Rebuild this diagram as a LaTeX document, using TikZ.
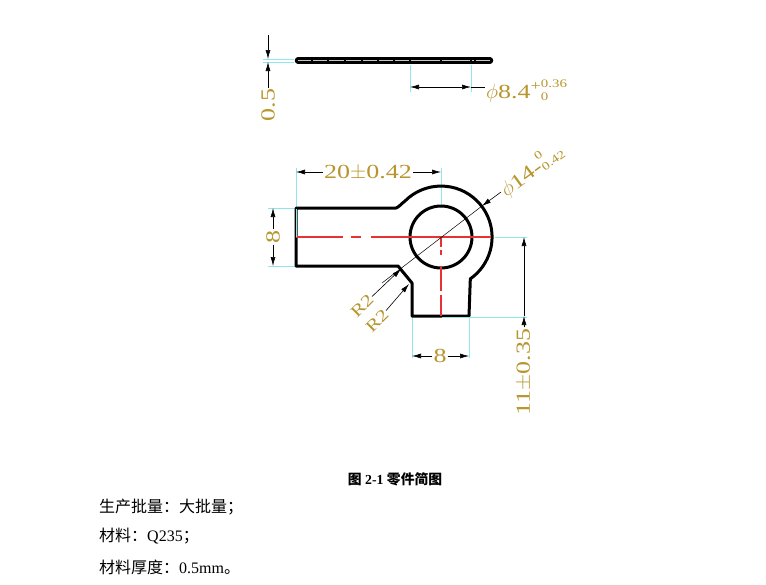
\documentclass[tikz,border=0pt]{standalone}
\usepackage{fontspec}
\setmainfont{Liberation Serif}
\newfontfamily\cadfont[FakeStretch=1.3]{Liberation Serif}
\newfontfamily\cjk{Noto Sans CJK SC}
\usetikzlibrary{arrows.meta,positioning}
\definecolor{dimgold}{HTML}{B8962E}
\definecolor{extcyan}{HTML}{8FE6EC}
\definecolor{redaxis}{RGB}{230,50,50}
\newcommand{\tolstack}[2]{\raisebox{0.58em}{\makebox[0pt][l]{\fontsize{11.5}{12}\selectfont #1}}\raisebox{-0.08em}{\fontsize{11.5}{12}\selectfont #2}}
\tikzset{
  outline/.style={line width=3pt, line join=round, line cap=round},
  ext/.style={draw=extcyan, line width=0.8pt},
  centreline/.style={color=redaxis, line width=1.2pt},
  dimtext/.style={text=dimgold, inner sep=1pt, font=\cadfont\fontsize{20}{20}\selectfont},
  dimarrow/.style={line width=0.6pt, -{Latex[length=9pt,width=5pt]}},
  twoway/.style={line width=0.6pt, {Latex[length=9pt,width=5pt]}-{Latex[length=9pt,width=5pt]}},
  body/.style={anchor=base west, inner sep=0pt, font=\fontsize{16}{16}\selectfont},
}
\begin{document}
\begin{tikzpicture}[x=1pt, y=-1pt]
  \path[use as bounding box, fill=white] (0,0) rectangle (766,584);

  % edge view
  \draw[line width=6.5pt, line cap=round] (298,60.5) -- (490,60.5);
  \draw[gray!45, line width=1.2pt] (298,60.5) -- (490,60.5);
  \foreach \tick in {312,328,345,362,378,394,410,441,471,475}
    \draw[line width=1.2pt] (\tick,59.5) -- (\tick,61.5);
  \draw[ext] (263,59) -- (294,59) (263,62) -- (294,62);
  \draw[ext] (410,65) -- (410,92) (471,65) -- (471,92);
  \node[dimtext, rotate=90] (thick) at (268,105) {0.5};
  \coordinate (thickA) at (268,59);
  \coordinate (thickB) at (268,62);
  \draw[dimarrow] (268,35) -- (thickA);
  \draw[dimarrow] (thick) -- (thickB);
  \node[dimtext, anchor=west] (bore) at (485,91) {$\phi$8.4\raisebox{0.42em}{\fontsize{14}{14}\selectfont+}\tolstack{0.36}{0}};
  \coordinate (boreA) at (410,87);
  \coordinate (boreB) at (471,87);
  \draw[twoway] (boreA) -- (boreB);
  \draw[line width=0.6pt] (boreB) -- (boreB -| bore.west);

  % plan view
  \draw[ext] (296,168) -- (296,237);
  \draw[ext] (441,168) -- (441,208);
  \draw[ext] (268,208) -- (295,208) (268,266) -- (295,266);
  \draw[ext] (495,237) -- (527,237);
  \draw[ext] (412,317) -- (412,358) (469,317) -- (469,358);
  \draw[outline] (296,208) -- (396,208) .. controls (399,207) and (401,204) .. (405,201)
    arc[start angle=-135, end angle=55, radius=51]
    -- (469,316) -- (412,316) -- (412,283) -- (398,266) -- (296,266) -- cycle;
  \draw[outline] (441,237) circle[radius=31];
  \draw[centreline, dash pattern=on 47pt off 8pt on 10pt off 10pt on 120pt off 20pt] (296,237) -- (492,237);
  \draw[centreline, dash pattern=on 10pt off 3pt on 5pt off 11pt on 25pt off 4pt on 21pt off 20pt] (441,237) -- (441,316);
  \draw[ext] (296,209) -- (296,237);
  \draw[ext] (442,317.5) -- (527,317.5);

  % dimensions
  \node[dimtext] (len) at (368,173) {20$\pm$0.42};
  \coordinate (lenA) at (296,172);
  \coordinate (lenB) at (441,172);
  \path[dimarrow] (len.west |- lenA) edge (lenA) (len.east |- lenB) edge (lenB);
  \node[dimtext, rotate=90] (barw) at (273,237) {8};
  \coordinate (barwA) at (273,208);
  \coordinate (barwB) at (273,266);
  \path[dimarrow] (barw) edge (barwA) edge (barwB);
  \node[dimtext] (tabw) at (440,356) {8};
  \coordinate (tabwA) at (412,356);
  \coordinate (tabwB) at (469,356);
  \path[dimarrow] (tabw) edge (tabwA) edge (tabwB);
  \node[dimtext, rotate=90] (drop) at (524,372) {11$\pm$0.35};
  \coordinate (dropA) at (524,237);
  \coordinate (dropB) at (524,316);
  \path[dimarrow] (drop) edge (dropB);
  \draw[dimarrow] (dropB) -- (dropA);

  % ring diameter and fillets
  \node[dimtext, rotate=36, anchor=west] (ring) at (501,192) {$\phi$14-\tolstack{0}{0.42}};
  \coordinate (ringA) at (482,206);
  \coordinate (ringB) at (382,283);
  \draw[dimarrow] (ring.west) -- (ringA);
  \draw[line width=0.5pt] (ringA) -- (ringB);
  \node[dimtext, rotate=45, font=\cadfont\fontsize{16.5}{17}\selectfont] (filletA) at (362,306) {R2};
  \node[dimtext, rotate=45, font=\cadfont\fontsize{16.5}{17}\selectfont] (filletB) at (377,321) {R2};
  \coordinate (filletAtip) at (401,269);
  \coordinate (filletBtip) at (409,284);
  \draw[dimarrow] (filletA) -- (filletAtip);
  \draw[dimarrow] (filletB) -- (filletBtip);

  % caption and notes
  \node[anchor=base, inner sep=0pt, font=\bfseries\fontsize{13.8}{14}\selectfont] (caption) at (395,484) {{\cjk 图} 2-1 {\cjk 零件简图}};
  \node[body] (batch) at (99,512) {\cjk 生产批量：大批量；};
  \node[body] (material) at (99,541) {{\cjk 材料：}Q235{\cjk ；}};
  \node[body] (gauge) at (99,573) {{\cjk 材料厚度：}0.5mm{\cjk 。}};
\end{tikzpicture}
\end{document}
